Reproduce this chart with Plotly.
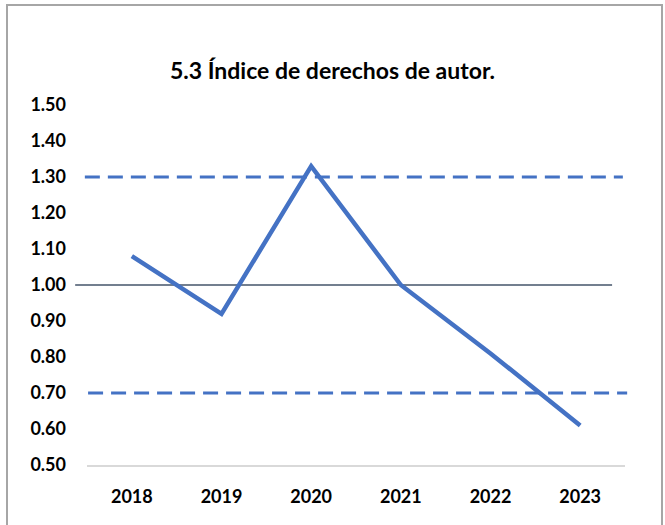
import plotly.graph_objects as go

years = ["2018", "2019", "2020", "2021", "2022", "2023"]
index_values = [1.08, 0.92, 1.33, 1.00, 0.81, 0.61]
upper_limit = 1.30
lower_limit = 0.70
reference = 1.00
y_ticks = [0.5, 0.6, 0.7, 0.8, 0.9, 1.0, 1.1, 1.2, 1.3, 1.4, 1.5]

W, H = 665, 525
ml, mr, mt, mb = 87, 40, 105, 60
pw, ph = W - ml - mr, H - mt - mb

fig = go.Figure()
fig.add_trace(go.Scatter(
    x=years, y=index_values, mode="lines",
    line=dict(color="#4472C4", width=4.5),
    showlegend=False, hoverinfo="x+y",
))

# limit lines
for v, x0, x1 in [(upper_limit, -0.004, 0.996), (lower_limit, 0.002, 1.004)]:
    fig.add_shape(type="line", xref="x domain", yref="y", x0=x0, x1=x1, y0=v, y1=v,
                  line=dict(color="#4472C4", width=3, dash="15px,8px"), layer="below")
fig.add_shape(type="line", xref="x domain", yref="y", x0=-0.022, x1=0.976,
              y0=reference, y1=reference,
              line=dict(color="#44546A", width=1.6), layer="below")

# outer border
fig.add_shape(type="rect", xref="paper", yref="paper",
              x0=(7 - ml) / pw, x1=(662 - ml) / pw,
              y0=-(mb + 20) / ph, y1=(H - 5 - mb) / ph,
              line=dict(color="#A6A6A6", width=2), layer="below")

fig.update_layout(
    width=W, height=H,
    margin=dict(l=ml, r=mr, t=mt, b=mb),
    paper_bgcolor="white", plot_bgcolor="white",
    font=dict(family="Lato", size=18, color="black"),
    title=dict(text="<b>5.3 Índice de derechos de autor.</b>", x=0.5, xanchor="center",
               xref="container", y=1 - 71 / H, yanchor="middle",
               font=dict(family="Lato", size=23, color="black")),
    xaxis=dict(type="category", range=[-0.5, 5.5], showgrid=False, showline=True,
               linecolor="#D9D9D9", linewidth=2, ticks="",
               tickfont=dict(family="Lato", size=18, weight="bold"),
               ticklabelstandoff=14, zeroline=False, fixedrange=True),
    yaxis=dict(range=[0.5, 1.5], tickvals=y_ticks, tickformat=".2f", showgrid=False,
               showline=False, zeroline=False, ticks="",
               tickfont=dict(family="Lato", size=18, weight="bold"),
               ticklabelstandoff=20, fixedrange=True),
)

fig.write_html("out.html", config={"displayModeBar": False},
               post_script="document.body.style.margin='0';")
